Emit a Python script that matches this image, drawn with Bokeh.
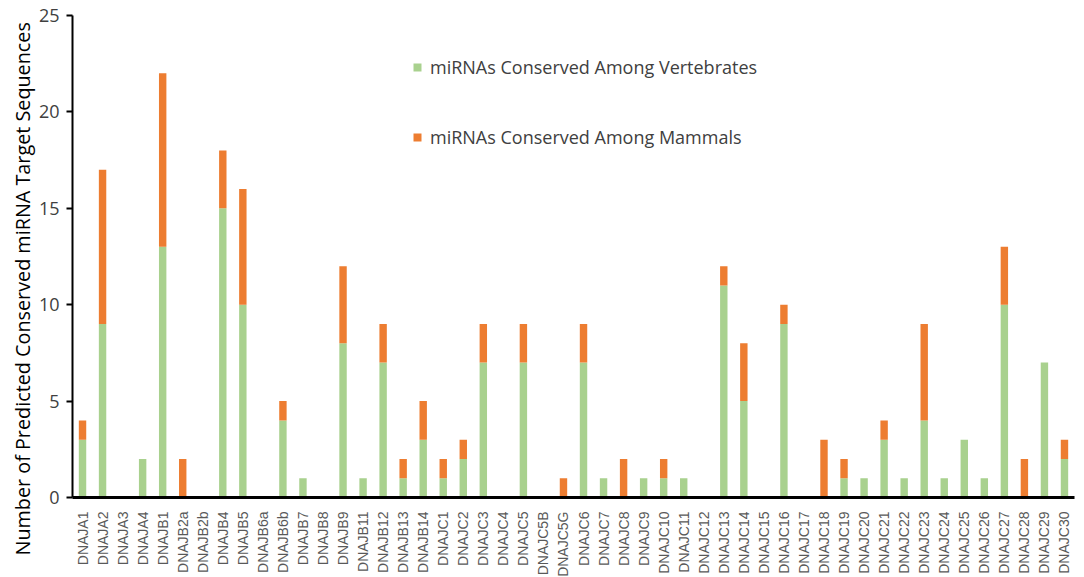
import math
from bokeh.plotting import figure
from bokeh.models import ColumnDataSource, Range1d, FixedTicker, Legend, Title
from bokeh.embed import file_html
from bokeh.resources import INLINE

genes = ["DNAJA1", "DNAJA2", "DNAJA3", "DNAJA4", "DNAJB1", "DNAJB2a", "DNAJB2b",
         "DNAJB4", "DNAJB5", "DNAJB6a", "DNAJB6b", "DNAJB7", "DNAJB8", "DNAJB9",
         "DNAJB11", "DNAJB12", "DNAJB13", "DNAJB14", "DNAJC1", "DNAJC2", "DNAJC3",
         "DNAJC4", "DNAJC5", "DNAJC5B", "DNAJC5G", "DNAJC6", "DNAJC7", "DNAJC8",
         "DNAJC9", "DNAJC10", "DNAJC11", "DNAJC12", "DNAJC13", "DNAJC14", "DNAJC15",
         "DNAJC16", "DNAJC17", "DNAJC18", "DNAJC19", "DNAJC20", "DNAJC21", "DNAJC22",
         "DNAJC23", "DNAJC24", "DNAJC25", "DNAJC26", "DNAJC27", "DNAJC28", "DNAJC29",
         "DNAJC30"]

vertebrates = [3, 9, 0, 2, 13, 0, 0, 15, 10, 0, 4, 1, 0, 8, 1, 7, 1, 3, 1, 2, 7,
               0, 7, 0, 0, 7, 1, 0, 1, 1, 1, 0, 11, 5, 0, 9, 0, 0, 1, 1, 3, 1,
               4, 1, 3, 1, 10, 0, 7, 2]

mammals = [1, 8, 0, 0, 9, 2, 0, 3, 6, 0, 1, 0, 0, 4, 0, 2, 1, 2, 1, 1, 2,
           0, 2, 0, 1, 2, 0, 2, 0, 1, 0, 0, 1, 3, 0, 1, 0, 3, 1, 0, 1, 0,
           5, 0, 0, 0, 3, 2, 0, 1]

y_ticks = [0, 5, 10, 15, 20, 25]
series_labels = ["miRNAs Conserved Among Vertebrates", "miRNAs Conserved Among Mammals"]
y_title = "Number of Predicted Conserved miRNA Target Sequences"
colors = ["#a9d18e", "#ed7d31"]

source = ColumnDataSource(dict(gene=genes, vert=vertebrates, mamm=mammals))

p = figure(x_range=genes, y_range=Range1d(0, 25),
           frame_width=1002, frame_height=482,
           output_backend="svg", toolbar_location=None,
           min_border_left=72, min_border_right=2, min_border_top=15, min_border_bottom=72)
p.x_range.range_padding = 0

renderers = p.vbar_stack(["vert", "mamm"], x="gene", width=0.37, color=colors,
                         line_color=None, source=source)

legend = Legend(items=[(series_labels[0], [renderers[0]]), (series_labels[1], [renderers[1]])],
                location=(340, 348), spacing=46, glyph_width=10, glyph_height=10,
                label_standoff=8, label_height=24,
                label_text_font="Open Sans", label_text_font_size="18px",
                label_text_color="#404040", border_line_color=None,
                background_fill_alpha=0)
p.add_layout(legend)

p.add_layout(Title(text=y_title, align="left", offset=-58, standoff=0,
                   text_font="Open Sans", text_font_size="19.8px",
                   text_font_style="normal", text_color="black"), "left")

p.outline_line_color = None
p.xgrid.grid_line_color = None
p.ygrid.grid_line_color = None

p.yaxis.ticker = FixedTicker(ticks=y_ticks)
p.yaxis.axis_line_width = 2
p.yaxis.axis_line_color = "black"
p.yaxis.major_tick_line_width = 2
p.yaxis.major_tick_out = 6
p.yaxis.major_tick_in = 0
p.yaxis.minor_tick_line_color = None
p.yaxis.major_label_text_font = "Open Sans"
p.yaxis.major_label_text_font_size = "18px"
p.yaxis.major_label_text_color = "#404040"
p.yaxis.major_label_standoff = 7

p.xaxis.axis_line_width = 3
p.xaxis.axis_line_color = "black"
p.xaxis.major_tick_line_color = None
p.xaxis.minor_tick_line_color = None
p.xaxis.major_label_orientation = math.pi / 2
p.xaxis.major_label_text_font = "Liberation Sans"
p.xaxis.major_label_text_font_size = "14px"
p.xaxis.major_label_text_color = "#595959"
p.xaxis.major_label_standoff = 8

open("out.html", "w").write(file_html(p, INLINE))
